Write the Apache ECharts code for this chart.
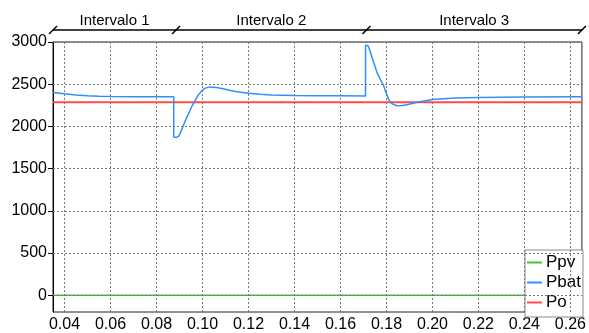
<!DOCTYPE html>
<html>
<head>
<meta charset="utf-8">
<script src="https://cdn.jsdelivr.net/npm/echarts@6/dist/echarts.min.js"></script>
<style>
  html, body { margin: 0; padding: 0; background: #fff; }
  #chart { width: 589px; height: 333px; }
</style>
</head>
<body>
<div id="chart"></div>
<script>
// ticks
var xTicks = [0.04, 0.06, 0.08, 0.10, 0.12, 0.14, 0.16, 0.18, 0.20, 0.22, 0.24, 0.26];
var yTicks = [0, 500, 1000, 1500, 2000, 2500, 3000];

// intervalos (limites en segundos)
var intervalNames = ['Intervalo 1', 'Intervalo 2', 'Intervalo 3'];
var intervalEdges = [0.035, 0.0885, 0.1713, 0.265];

// series [t, P]
var ppv = [[0.035, 0], [0.265, 0]];
var po = [[0.035, 2285], [0.265, 2285]];
var pbat = [
  [0.035, 2402], [0.040, 2386], [0.045, 2373], [0.050, 2364], [0.055, 2358],
  [0.060, 2354], [0.070, 2351], [0.080, 2350], [0.0875, 2350],
  [0.0875, 1874], [0.0887, 1869], [0.0897, 1885], [0.0905, 1930],
  [0.0915, 2000], [0.0930, 2095], [0.0944, 2178], [0.0955, 2245],
  [0.0966, 2297], [0.0980, 2365], [0.0995, 2415], [0.1010, 2450],
  [0.1031, 2468], [0.1060, 2460], [0.1090, 2445], [0.1117, 2428],
  [0.1150, 2410], [0.1200, 2392], [0.1250, 2380], [0.1300, 2372],
  [0.1400, 2366], [0.1500, 2363], [0.1600, 2362], [0.1709, 2361],
  [0.1709, 2962], [0.1714, 2968], [0.1720, 2955], [0.1728, 2900],
  [0.1738, 2810], [0.1750, 2712], [0.1759, 2637], [0.1775, 2550],
  [0.1788, 2480], [0.1800, 2385], [0.1810, 2317], [0.1824, 2269],
  [0.1845, 2245], [0.1870, 2248], [0.1897, 2262], [0.1940, 2290],
  [0.2000, 2318], [0.2100, 2335], [0.2200, 2342], [0.2300, 2346],
  [0.2400, 2348], [0.2650, 2350]
];

var font = 'Liberation Sans, Arial, sans-serif';
var myChart = echarts.init(document.getElementById('chart'));

var option = {
  animation: false,
  textStyle: { fontFamily: font, color: '#000' },
  grid: {
    left: 53, right: 6, top: 42, bottom: 21,
    show: true, borderColor: '#222', borderWidth: 1
  },
  legend: {
    data: ['Ppv', 'Pbat', 'Po'],
    orient: 'vertical',
    left: 525, top: 250,
    backgroundColor: '#fff',
    borderColor: '#888', borderWidth: 1,
    padding: [4, 2, 6, 2],
    itemGap: 3,
    itemWidth: 15, itemHeight: 2,
    icon: 'rect',
    textStyle: { fontFamily: font, fontSize: 17, color: '#000', padding: [0, 0, 0, -1] }
  },
  xAxis: {
    type: 'value',
    min: 0.035, max: 0.265,
    axisLine: { show: true, lineStyle: { color: '#000', width: 1 } },
    axisTick: { show: false },
    splitLine: { show: false },
    axisLabel: {
      customValues: xTicks,
      fontSize: 16, color: '#000', margin: 5, fontFamily: font,
      formatter: function (v) { return v.toFixed(2); }
    }
  },
  yAxis: {
    type: 'value',
    min: -200, max: 3000,
    axisLine: { show: true, lineStyle: { color: '#000', width: 1 } },
    axisTick: { show: true, customValues: yTicks, length: 5, lineStyle: { color: '#000' } },
    splitLine: { show: false },
    axisLabel: {
      customValues: yTicks,
      fontSize: 16, color: '#000', margin: 6, fontFamily: font,
      formatter: function (v) { return String(v); }
    }
  },
  series: [
    {
      name: 'rejilla', type: 'line', data: [], z: 1, silent: true,
      markLine: {
        silent: true, symbol: 'none', animation: false,
        label: { show: false },
        lineStyle: { color: '#777', type: [2, 2], width: 1 },
        data: xTicks.map(function (v) { return { xAxis: v }; })
          .concat(yTicks.map(function (v) { return { yAxis: v }; }))
      }
    },
    {
      name: 'Ppv', type: 'line', data: ppv, showSymbol: false, z: 3,
      lineStyle: { color: '#3ccc2a', width: 1.5 }, itemStyle: { color: '#3ccc2a' }
    },
    {
      name: 'Po', type: 'line', data: po, showSymbol: false, z: 3,
      lineStyle: { color: '#ff4a4a', width: 2 }, itemStyle: { color: '#ff4a4a' }
    },
    {
      name: 'Pbat', type: 'line', data: pbat, showSymbol: false, z: 4,
      lineStyle: { color: '#2e8fff', width: 1.5 }, itemStyle: { color: '#2e8fff' }
    }
  ]
};
myChart.setOption(option);

// anotaciones de intervalos sobre el grafico
var topPx = myChart.convertToPixel({ gridIndex: 0 }, [0.035, 3000])[1];
var lineY = topPx - 12;
var graphics = [];
var edgePx = intervalEdges.map(function (t) {
  return myChart.convertToPixel({ gridIndex: 0 }, [t, 0])[0];
});
graphics.push({
  type: 'line', silent: true,
  shape: { x1: edgePx[0], y1: lineY, x2: edgePx[edgePx.length - 1], y2: lineY },
  style: { stroke: '#000', lineWidth: 1.5 }
});
edgePx.forEach(function (px) {
  graphics.push({
    type: 'line', silent: true,
    shape: { x1: px - 4, y1: lineY + 4, x2: px + 4, y2: lineY - 4 },
    style: { stroke: '#000', lineWidth: 1.5 }
  });
});
intervalNames.forEach(function (name, i) {
  graphics.push({
    type: 'text', silent: true,
    x: (edgePx[i] + edgePx[i + 1]) / 2, y: lineY - 9,
    style: {
      text: name, fill: '#000', font: '15px ' + font,
      align: 'center', verticalAlign: 'middle'
    }
  });
});
myChart.setOption({ graphic: graphics });
</script>
</body>
</html>
